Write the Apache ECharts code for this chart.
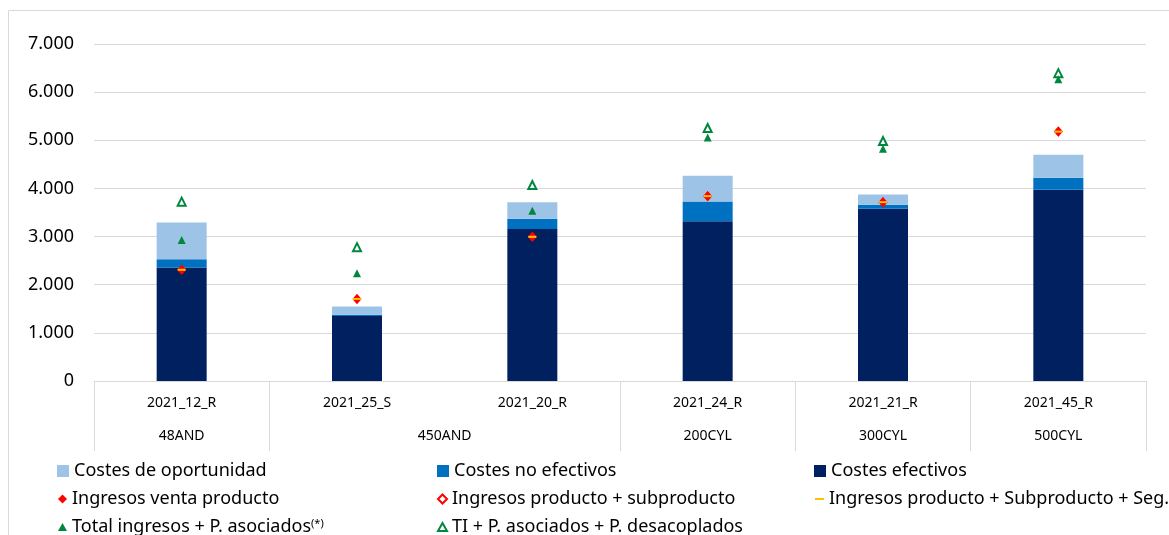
<!DOCTYPE html>
<html>
<head>
<meta charset="utf-8">
<script src="https://cdn.jsdelivr.net/npm/echarts@6/dist/echarts.min.js"></script>
<style>
  html, body { margin: 0; padding: 0; background: #fff; }
  #chart { width: 1169px; height: 535px; }
</style>
</head>
<body>
<div id="chart"></div>
<script>
// datos
const categories = ['2021_12_R', '2021_25_S', '2021_20_R', '2021_24_R', '2021_21_R', '2021_45_R']
const groups = ['48AND', '450AND', '450AND', '200CYL', '300CYL', '500CYL']
const yTicks = [0, 1000, 2000, 3000, 4000, 5000, 6000, 7000]

const costesOportunidad = [760, 170, 345, 535, 215, 480]
const costesNoEfectivos = [175, 25, 215, 410, 80, 250]
const costesEfectivos = [2355, 1350, 3155, 3320, 3580, 3970]
const ingresosVenta = [2310, 1705, 2995, 3840, 3715, 5180]
const ingresosSubproducto = [2310, 1705, 2995, 3840, 3715, 5180]
const ingresosSeg = [2310, 1705, 2995, 3840, 3715, 5180]
const totalIngresos = [2930, 2240, 3535, 5060, 4825, 6270]
const tiDesacoplados = [3725, 2780, 4070, 5255, 4985, 6395]

const FONT = 'Noto Sans'
const GRID_COLOR = '#d9d9d9'

// tramos del segundo nivel del eje
const spans = []
groups.forEach((g, i) => {
  const last = spans[spans.length - 1]
  if (last && last.name === g) last.end = i
  else spans.push({ name: g, start: i, end: i })
})
const groupTicks = [-0.5, ...spans.map(s => s.end + 0.5)]
const groupCenters = spans.map(s => (s.start + s.end) / 2)

const fmtMiles = v => String(v).replace(/\B(?=(\d{3})+(?!\d))/g, '.')

const chart = echarts.init(document.getElementById('chart'))

const stackBar = (name, data, color) => ({
  name, type: 'bar', stack: 'costes', data, barWidth: 50,
  itemStyle: { color }, emphasis: { disabled: true },
})

const scatter = (name, data, symbol, size, color, z) => ({
  name, type: 'scatter', data, symbol, symbolSize: size, z,
  itemStyle: { color, opacity: 1 }, emphasis: { disabled: true },
})

// leyenda en tres columnas, un componente por elemento
const legendItems = [
  { name: 'Costes de oportunidad', left: 57, row: 0, w: 12, h: 12, icon: 'rect' },
  { name: 'Costes no efectivos', left: 437, row: 0, w: 12, h: 12, icon: 'rect' },
  { name: 'Costes efectivos', left: 814, row: 0, w: 12, h: 12, icon: 'rect' },
  { name: 'Ingresos venta producto', left: 58, row: 1, w: 9, h: 9 },
  { name: 'Ingresos producto + subproducto', left: 437, row: 1, w: 9, h: 9 },
  { name: 'Ingresos producto + Subproducto + Seg.', left: 815, row: 1, w: 9, h: 2 },
  { name: 'Total ingresos + P. asociados', left: 58, row: 2, w: 9, h: 8 },
  { name: 'TI + P. asociados + P. desacoplados', left: 437, row: 2, w: 9, h: 8 },
]
const rowTops = [460, 488, 516]

chart.setOption({
  animation: false,
  textStyle: { fontFamily: FONT },
  graphic: [{
    type: 'rect', silent: true, z: -1,
    shape: { x: 8.5, y: 10.5, width: 1300, height: 700 },
    style: { fill: 'none', stroke: GRID_COLOR, lineWidth: 1 },
  }],
  grid: { left: 94, right: 23, top: 44, bottom: 154 },
  legend: legendItems.map(it => ({
    data: [it.icon ? { name: it.name, icon: it.icon } : it.name],
    left: it.left, top: rowTops[it.row],
    padding: 0, selectedMode: false,
    itemWidth: it.w, itemHeight: it.h,
    textStyle: {
      fontFamily: FONT, fontSize: 18, color: '#000', lineHeight: 22,
      rich: { s: { fontSize: 11, fontFamily: FONT, color: '#000', padding: [0, 0, 6, 0] } },
    },
    formatter: n => n === 'Total ingresos + P. asociados' ? n + '{s|(*)}' : n,
  })),
  xAxis: [
    {
      type: 'category',
      data: categories,
      axisLine: { lineStyle: { color: GRID_COLOR } },
      axisTick: { show: false },
      axisLabel: { color: '#000', fontSize: 14, margin: 15, fontFamily: FONT },
    },
    {
      type: 'value', min: -0.5, max: 5.5, position: 'bottom',
      axisLine: { show: false },
      splitLine: { show: false },
      axisTick: { show: true, customValues: groupTicks, length: 70, lineStyle: { color: GRID_COLOR } },
      axisLabel: {
        customValues: groupCenters, color: '#000', fontSize: 14, margin: 48, fontFamily: FONT,
        formatter: v => {
          const s = spans.find(sp => Math.abs((sp.start + sp.end) / 2 - v) < 1e-6)
          return s ? s.name : ''
        },
      },
    },
  ],
  yAxis: {
    type: 'value', min: yTicks[0], max: yTicks[yTicks.length - 1], interval: yTicks[1] - yTicks[0],
    axisLine: { show: false },
    axisTick: { show: false },
    splitLine: { lineStyle: { color: GRID_COLOR, width: 1 } },
    axisLabel: { color: '#000', fontSize: 18, margin: 20, fontFamily: FONT, formatter: fmtMiles },
  },
  series: [
    stackBar('Costes efectivos', costesEfectivos, '#002060'),
    stackBar('Costes no efectivos', costesNoEfectivos, '#0070C0'),
    stackBar('Costes de oportunidad', costesOportunidad, '#9DC3E6'),
    scatter('Ingresos producto + subproducto', ingresosSubproducto, 'emptyDiamond', [6, 7], '#FF0000', 3),
    scatter('Ingresos venta producto', ingresosVenta, 'diamond', [9, 10], '#FF0000', 4),
    scatter('Ingresos producto + Subproducto + Seg.', ingresosSeg, 'rect', [8, 2], '#FFC000', 5),
    scatter('TI + P. asociados + P. desacoplados', tiDesacoplados, 'emptyTriangle', [8, 8], '#00873E', 3),
    scatter('Total ingresos + P. asociados', totalIngresos, 'triangle', [8, 8], '#00873E', 4),
  ],
})
</script>
</body>
</html>
